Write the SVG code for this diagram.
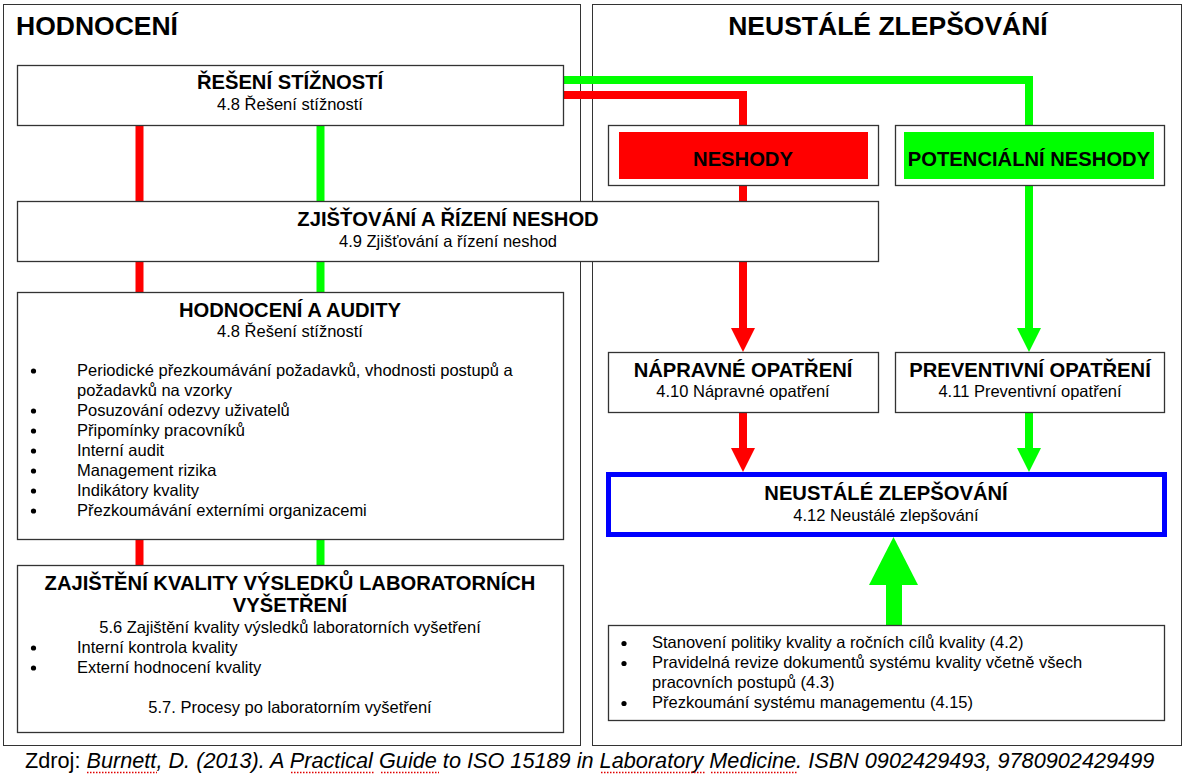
<svg xmlns="http://www.w3.org/2000/svg" width="1187" height="775" viewBox="0 0 1187 775">
<style>
text{font-family:"Liberation Sans",Arial,sans-serif;fill:#000}
.h{font-size:26.5px;font-weight:bold}
.t{font-size:20.2px;font-weight:bold;text-anchor:middle}
.s{font-size:16.5px;text-anchor:middle}
.b{font-size:16.5px}
.dot{fill:#000}
.box{fill:#fff;stroke:#333;stroke-width:1.3}
.panel{fill:#fff;stroke:#333;stroke-width:1}
.r{stroke:#ff0000;stroke-width:8;fill:none}
.g{stroke:#00ff00;stroke-width:8;fill:none}
.src{font-size:21.7px}
.sq{stroke:#e00000;stroke-width:1.4;stroke-dasharray:1.5 1.5;fill:none}
</style>
<g id="panels">
<rect class="panel" x="3.5" y="4.5" width="577" height="741"/>
<rect class="panel" x="592.5" y="4.5" width="589" height="741"/>
<text class="h" x="16" y="35">HODNOCENÍ</text>
<text class="h" x="888" y="35" text-anchor="middle">NEUSTÁLÉ ZLEPŠOVÁNÍ</text>
</g>
<g id="connectors">
<line class="r" x1="139.5" y1="126" x2="139.5" y2="566"/>
<line class="g" x1="320.5" y1="126" x2="320.5" y2="566"/>
<polyline class="g" points="563,80 1029,80 1029,330"/>
<polygon points="1017,328 1041,328 1029,352" fill="#00ff00"/>
<polyline class="r" points="563,95 743,95 743,330"/>
<polygon points="731,328 755,328 743,352" fill="#ff0000"/>
<line class="r" x1="743" y1="412" x2="743" y2="450"/>
<polygon points="731,448 755,448 743,472" fill="#ff0000"/>
<line class="g" x1="1029" y1="412" x2="1029" y2="450"/>
<polygon points="1017,448 1041,448 1029,472" fill="#00ff00"/>
<rect x="886" y="584" width="16" height="42" fill="#00ff00"/>
<polygon points="869,585 918,585 893.5,537" fill="#00ff00"/>
</g>
<g id="n-reseni">
<rect class="box" x="17.5" y="65.5" width="546" height="60"/>
<text class="t" x="290" y="89">ŘEŠENÍ STÍŽNOSTÍ</text>
<text class="s" x="290" y="110">4.8 Řešení stížností</text>
</g>
<g id="n-zjistovani">
<rect class="box" x="17.5" y="201.5" width="861" height="60"/>
<text class="t" x="448" y="226">ZJIŠŤOVÁNÍ A ŘÍZENÍ NESHOD</text>
<text class="s" x="448" y="247">4.9 Zjišťování a řízení neshod</text>
</g>
<g id="n-audity">
<rect class="box" x="17.5" y="292.5" width="546" height="247"/>
<text class="t" x="290" y="317">HODNOCENÍ A AUDITY</text>
<text class="s" x="290" y="337">4.8 Řešení stížností</text>
<circle class="dot" cx="33.5" cy="371" r="2.6"/><text class="b" x="77" y="376">Periodické přezkoumávání požadavků, vhodnosti postupů a</text>
<text class="b" x="77" y="396">požadavků na vzorky</text>
<circle class="dot" cx="33.5" cy="411" r="2.6"/><text class="b" x="77" y="416">Posuzování odezvy uživatelů</text>
<circle class="dot" cx="33.5" cy="431" r="2.6"/><text class="b" x="77" y="436">Připomínky pracovníků</text>
<circle class="dot" cx="33.5" cy="451" r="2.6"/><text class="b" x="77" y="456">Interní audit</text>
<circle class="dot" cx="33.5" cy="471" r="2.6"/><text class="b" x="77" y="476">Management rizika</text>
<circle class="dot" cx="33.5" cy="491" r="2.6"/><text class="b" x="77" y="496">Indikátory kvality</text>
<circle class="dot" cx="33.5" cy="511" r="2.6"/><text class="b" x="77" y="516">Přezkoumávání externími organizacemi</text>
</g>
<g id="n-zajisteni">
<rect class="box" x="17.5" y="565.5" width="546" height="167"/>
<text class="t" x="290" y="590">ZAJIŠTĚNÍ KVALITY VÝSLEDKŮ LABORATORNÍCH</text>
<text class="t" x="290" y="612">VYŠETŘENÍ</text>
<text class="s" x="290" y="633">5.6 Zajištění kvality výsledků laboratorních vyšetření</text>
<circle class="dot" cx="33.5" cy="648" r="2.6"/><text class="b" x="77" y="653">Interní kontrola kvality</text>
<circle class="dot" cx="33.5" cy="668" r="2.6"/><text class="b" x="77" y="673">Externí hodnocení kvality</text>
<text class="s" x="290" y="713">5.7. Procesy po laboratorním vyšetření</text>
</g>
<g id="n-neshody">
<rect class="box" x="608.5" y="125.5" width="270" height="60"/>
<rect x="619" y="132" width="249" height="47" fill="#ff0000"/>
<text class="t" x="743" y="166">NESHODY</text>
</g>
<g id="n-potencialni">
<rect class="box" x="895.5" y="125.5" width="269" height="60"/>
<rect x="904" y="132" width="250" height="47" fill="#00ff00"/>
<text class="t" x="1029" y="166">POTENCIÁLNÍ NESHODY</text>
</g>
<g id="n-napravne">
<rect class="box" x="608.5" y="352.5" width="270" height="60"/>
<text class="t" x="743" y="377">NÁPRAVNÉ OPATŘENÍ</text>
<text class="s" x="743" y="397">4.10 Nápravné opatření</text>
</g>
<g id="n-preventivni">
<rect class="box" x="895.5" y="352.5" width="269" height="60"/>
<text class="t" x="1030" y="377">PREVENTIVNÍ OPATŘENÍ</text>
<text class="s" x="1030" y="397">4.11 Preventivní opatření</text>
</g>
<g id="n-neustale">
<rect x="608.5" y="474.5" width="556" height="60" fill="#fff" stroke="#0000ff" stroke-width="5"/>
<text class="t" x="886" y="500">NEUSTÁLÉ ZLEPŠOVÁNÍ</text>
<text class="s" x="886" y="521">4.12 Neustálé zlepšování</text>
</g>
<g id="n-politika">
<rect class="box" x="608.5" y="625.5" width="556" height="95"/>
<circle class="dot" cx="624" cy="643.5" r="2.6"/><text class="b" x="652" y="648">Stanovení politiky kvality a ročních cílů kvality (4.2)</text>
<circle class="dot" cx="624" cy="663.5" r="2.6"/><text class="b" x="652" y="668">Pravidelná revize dokumentů systému kvality včetně všech</text>
<text class="b" x="652" y="688">pracovních postupů (4.3)</text>
<circle class="dot" cx="624" cy="703.5" r="2.6"/><text class="b" x="652" y="708">Přezkoumání systému managementu (4.15)</text>
</g>
<g id="source">
<text class="src" x="25" y="768">Zdroj: <tspan font-style="italic">Burnett, D. (2013). A Practical Guide to ISO 15189 in Laboratory Medicine. ISBN 0902429493, 9780902429499</tspan></text>
<line class="sq" x1="87" y1="772.5" x2="157" y2="772.5"/>
<line class="sq" x1="291" y1="772.5" x2="375" y2="772.5"/>
<line class="sq" x1="381" y1="772.5" x2="439" y2="772.5"/>
<line class="sq" x1="601" y1="772.5" x2="705" y2="772.5"/>
<line class="sq" x1="711" y1="772.5" x2="798" y2="772.5"/>
</g>
</svg>
